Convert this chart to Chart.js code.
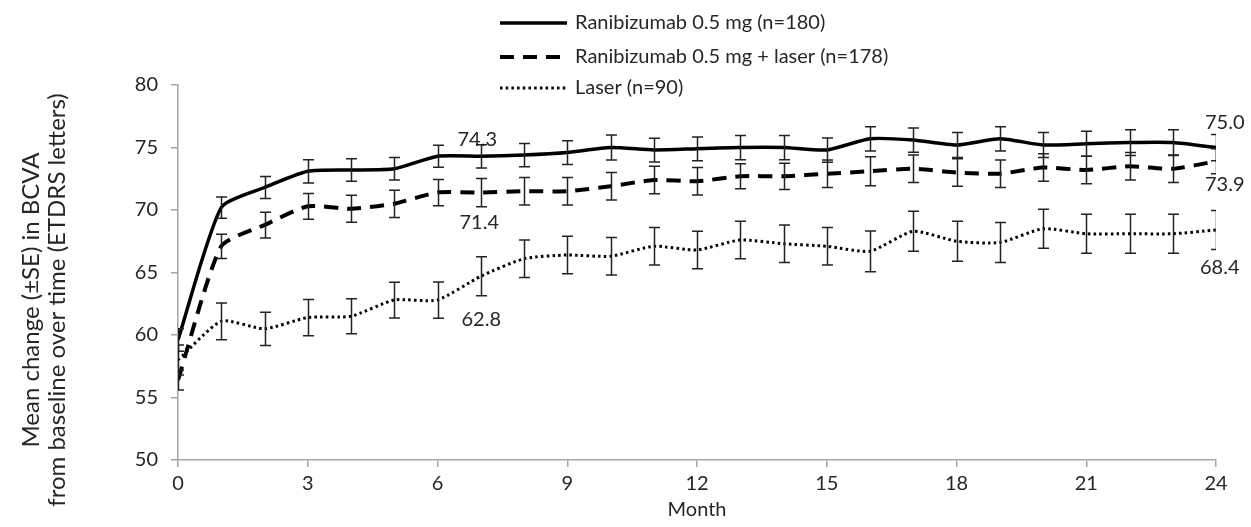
<!DOCTYPE html>
<html>
<head>
<meta charset="utf-8">
<script src="https://cdn.jsdelivr.net/npm/chart.js@4/dist/chart.umd.min.js"></script>
<style>
  html, body { margin: 0; padding: 0; background: #fff; }
  #wrap { width: 1251px; height: 527px; }
</style>
</head>
<body>
<div id="wrap"><canvas id="myChart" width="1251" height="527"></canvas></div>
<script>
// Données
const months = [0, 1, 2, 3, 4, 5, 6, 7, 8, 9, 10, 11, 12, 13, 14, 15, 16, 17, 18, 19, 20, 21, 22, 23, 24];
const xTicks = [0, 3, 6, 9, 12, 15, 18, 21, 24];
const yTicks = [50, 55, 60, 65, 70, 75, 80];

const seriesNames = ['Ranibizumab 0.5 mg (n=180)', 'Ranibizumab 0.5 mg + laser (n=178)', 'Laser (n=90)'];

const ranibizumab   = [59.6, 70.2, 71.8, 73.1, 73.2, 73.3, 74.3, 74.3, 74.4, 74.6, 75.0, 74.8, 74.9, 75.0, 75.0, 74.8, 75.7, 75.6, 75.2, 75.7, 75.2, 75.3, 75.4, 75.4, 75.0];
const ranibizumabSE = [0.9, 0.85, 0.88, 0.93, 0.9, 0.9, 0.88, 0.93, 0.93, 0.95, 1.0, 0.95, 0.95, 0.97, 0.97, 0.97, 0.97, 0.97, 1.0, 0.97, 1.0, 1.0, 1.03, 1.03, 1.05];

const combo   = [56.4, 67.1, 68.8, 70.3, 70.1, 70.5, 71.4, 71.4, 71.5, 71.5, 71.9, 72.4, 72.3, 72.7, 72.7, 72.9, 73.1, 73.3, 73.0, 72.9, 73.4, 73.2, 73.5, 73.3, 73.9];
const comboSE = [0.8, 0.97, 1.03, 1.03, 1.08, 1.09, 1.05, 1.13, 1.1, 1.1, 1.1, 1.1, 1.1, 1.0, 1.05, 1.1, 1.16, 1.1, 1.1, 1.1, 1.1, 1.1, 1.1, 1.1, 1.0];

const laser   = [58.0, 61.1, 60.5, 61.4, 61.5, 62.8, 62.8, 64.7, 66.1, 66.4, 66.3, 67.1, 66.8, 67.6, 67.3, 67.1, 66.7, 68.3, 67.5, 67.4, 68.5, 68.1, 68.1, 68.1, 68.4];
const laserSE = [1.2, 1.47, 1.33, 1.45, 1.4, 1.43, 1.45, 1.56, 1.5, 1.5, 1.5, 1.5, 1.5, 1.5, 1.5, 1.5, 1.63, 1.6, 1.6, 1.6, 1.56, 1.56, 1.56, 1.56, 1.56];

// Étiquettes de valeurs (série, mois, texte)
const valueLabels = [
    { s: 0, m: 6, text: '74.3' },
    { s: 1, m: 6, text: '71.4' },
    { s: 2, m: 6, text: '62.8' },
    { s: 0, m: 24, text: '75.0' },
    { s: 1, m: 24, text: '73.9' },
    { s: 2, m: 24, text: '68.4' }
];
// décalages des étiquettes en pixels (style, pas des données)
const labelOffsets = [[20, -17], [22, 30], [24, 20], [-11, -25], [-11, 23], [-16, 38]];

const allValues = [ranibizumab, combo, laser];
const allSE = [ranibizumabSE, comboSE, laserSE];
const dashes = [[], [14, 9], [2.5, 3.2]];
const widths = [3.5, 4, 3];

const FONT = 'Lato';
const TXT = '#262626';

// Barres d'erreur
const errorBars = {
    id: 'errorBars',
    afterDatasetsDraw(chart) {
        const { ctx, chartArea, scales: { x, y } } = chart;
        ctx.save();
        ctx.beginPath();
        ctx.rect(chartArea.left, chartArea.top - 20, chartArea.right - chartArea.left, chartArea.bottom - chartArea.top + 20);
        ctx.clip();
        ctx.strokeStyle = '#222';
        ctx.lineWidth = 1.5;
        allValues.forEach((vals, si) => {
            const se = allSE[si];
            months.forEach((m, i) => {
                const px = Math.round(x.getPixelForValue(m)) + 0.5;
                const top = y.getPixelForValue(vals[i] + se[i]);
                const bot = y.getPixelForValue(vals[i] - se[i]);
                ctx.beginPath();
                ctx.moveTo(px, top); ctx.lineTo(px, bot);
                ctx.moveTo(px - 5.5, top); ctx.lineTo(px + 5.5, top);
                ctx.moveTo(px - 5.5, bot); ctx.lineTo(px + 5.5, bot);
                ctx.stroke();
            });
        });
        ctx.restore();
    }
};

// Étiquettes, légende et titre de l'axe Y
const decorations = {
    id: 'decorations',
    afterDraw(chart) {
        const { ctx, scales: { x, y } } = chart;
        ctx.save();
        ctx.fillStyle = TXT;
        ctx.font = '20px ' + FONT;
        ctx.textBaseline = 'middle';
        ctx.textAlign = 'left';
        valueLabels.forEach((l, k) => {
            const px = x.getPixelForValue(l.m);
            const py = y.getPixelForValue(allValues[l.s][months.indexOf(l.m)]);
            ctx.fillText(l.text, px + labelOffsets[k][0], py + labelOffsets[k][1]);
        });

        // légende
        const legY = [23, 57, 88];
        ctx.font = '20px ' + FONT;
        seriesNames.forEach((name, i) => {
            ctx.save();
            ctx.strokeStyle = '#000';
            ctx.lineWidth = widths[i];
            ctx.setLineDash(dashes[i]);
            ctx.beginPath();
            ctx.moveTo(500, legY[i]);
            ctx.lineTo(567, legY[i]);
            ctx.stroke();
            ctx.restore();
            ctx.fillText(name, 575, legY[i]);
        });

        // titre Y sur deux lignes
        ctx.font = '24px ' + FONT;
        ctx.textAlign = 'center';
        ctx.translate(0, 300);
        ctx.rotate(-Math.PI / 2);
        ctx.fillText('Mean change (±SE) in BCVA', 0, 31);
        ctx.fillText('from baseline over time (ETDRS letters)', 0, 57);
        ctx.restore();
    }
};

Chart.defaults.animation = false;
const ctx = document.getElementById('myChart').getContext('2d');
new Chart(ctx, {
    type: 'line',
    data: {
        datasets: allValues.map((vals, i) => ({
            label: seriesNames[i],
            data: months.map((m, k) => ({ x: m, y: vals[k] })),
            borderColor: '#000',
            borderWidth: widths[i],
            borderDash: dashes[i],
            pointRadius: 0,
            tension: 0.2,
            fill: false
        }))
    },
    options: {
        responsive: false,
        devicePixelRatio: 1,
        layout: { padding: { top: 85, right: 35, left: 0, bottom: 0 } },
        plugins: { legend: { display: false }, tooltip: { enabled: false } },
        scales: {
            x: {
                type: 'linear',
                min: 0, max: 24,
                afterBuildTicks: s => { s.ticks = xTicks.map(v => ({ value: v })); },
                afterFit: s => { s.height = 67; },
                ticks: { font: { family: FONT, size: 20 }, color: TXT, padding: 5 },
                grid: { drawOnChartArea: false, drawTicks: true, tickLength: 7, color: '#a6a6a6', lineWidth: 1.5 },
                border: { color: '#a6a6a6', width: 1.5 },
                title: { display: true, text: 'Month', font: { family: FONT, size: 20 }, color: TXT, padding: { top: 0, bottom: 5 } }
            },
            y: {
                min: 50, max: 80,
                afterBuildTicks: s => { s.ticks = yTicks.map(v => ({ value: v })); },
                afterFit: s => { s.width = 178; },
                ticks: { font: { family: FONT, size: 20 }, color: TXT, padding: 13 },
                grid: { drawOnChartArea: false, drawTicks: true, tickLength: 7, color: '#a6a6a6', lineWidth: 1.5 },
                border: { color: '#a6a6a6', width: 1.5 }
            }
        }
    },
    plugins: [errorBars, decorations]
});
</script>
</body>
</html>
